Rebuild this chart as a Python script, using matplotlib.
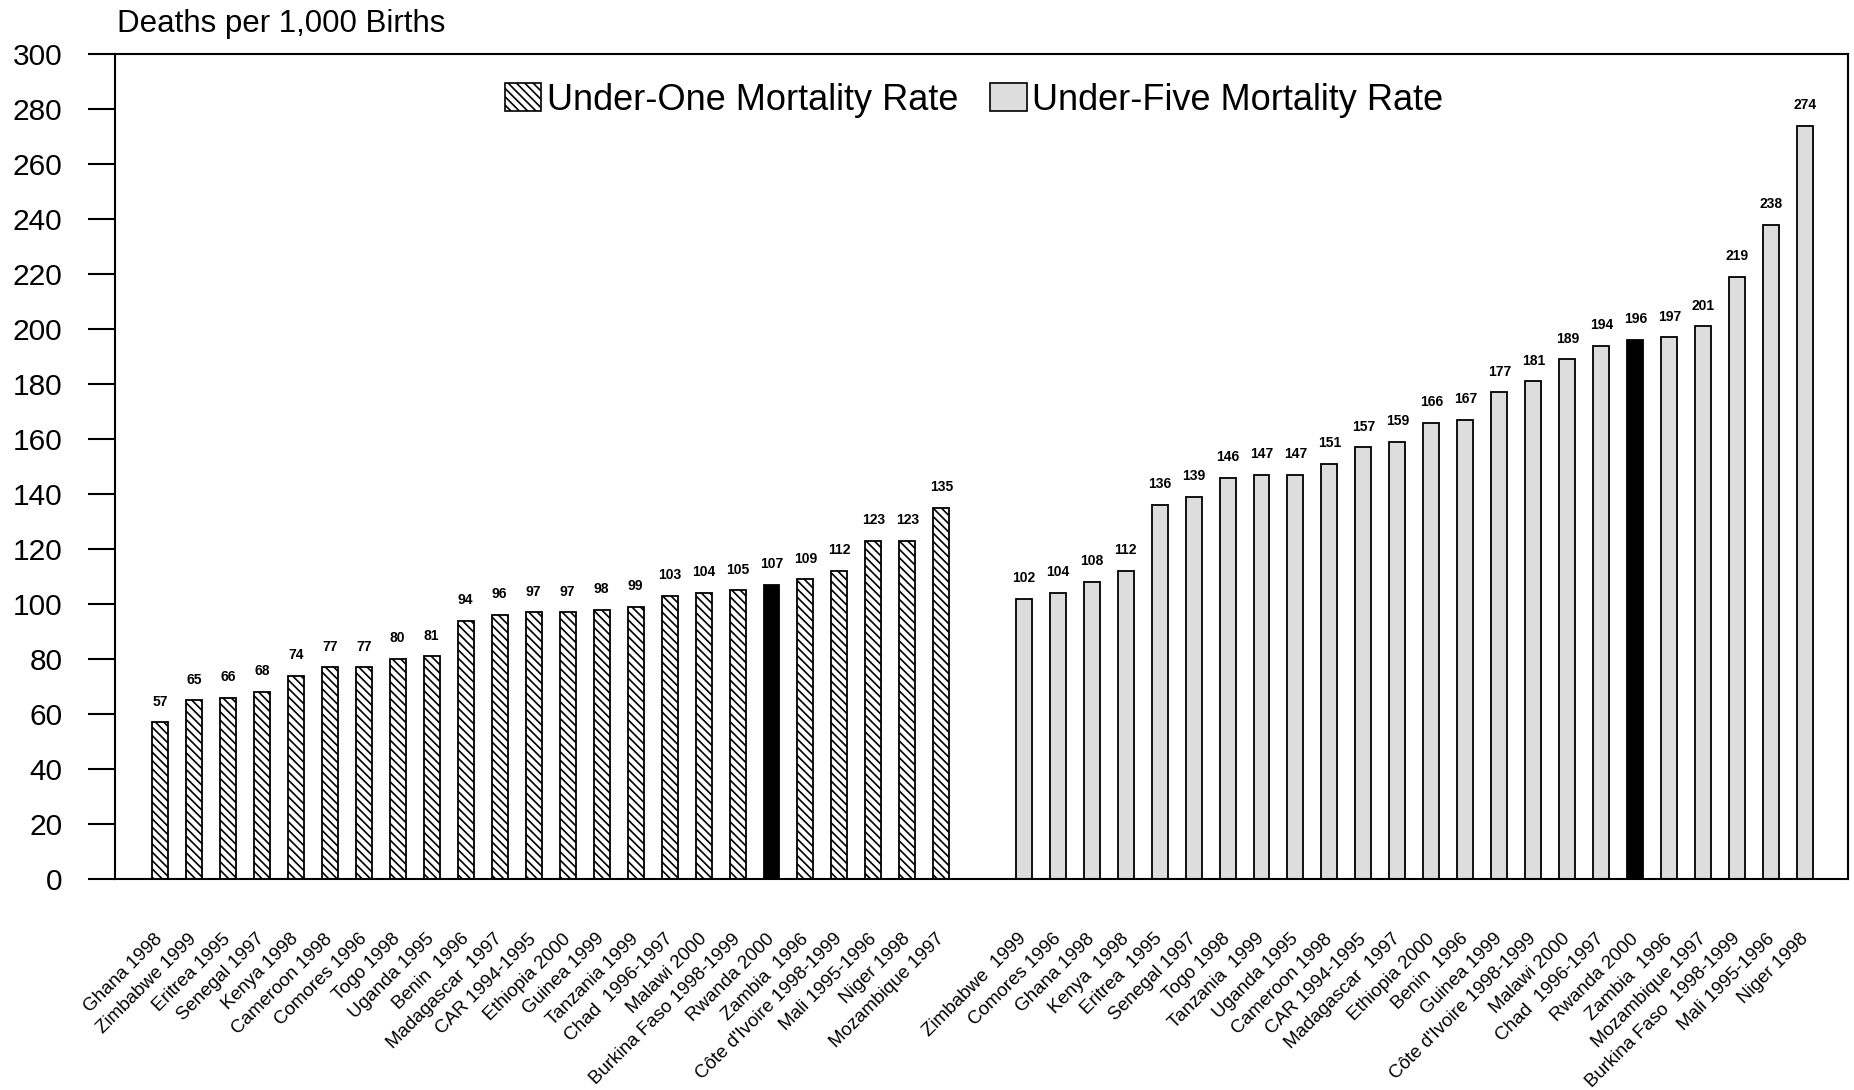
import numpy as np
import matplotlib
matplotlib.use("Agg")
import matplotlib.pyplot as plt
from matplotlib.patches import Patch
from matplotlib.transforms import ScaledTranslation

plt.rcParams['font.family'] = ['Liberation Sans', 'DejaVu Sans']
plt.rcParams['hatch.linewidth'] = 1.2

# --- data ---
under_one_labels = ["Ghana 1998", "Zimbabwe 1999", "Eritrea 1995", "Senegal 1997", "Kenya 1998",
                    "Cameroon 1998", "Comores 1996", "Togo 1998", "Uganda 1995", "Benin  1996",
                    "Madagascar  1997", "CAR 1994-1995", "Ethiopia 2000", "Guinea 1999",
                    "Tanzania 1999", "Chad  1996-1997", "Malawi 2000", "Burkina Faso 1998-1999",
                    "Rwanda 2000", "Zambia  1996", "Côte d'Ivoire 1998-1999", "Mali 1995-1996",
                    "Niger 1998", "Mozambique 1997"]
under_one = [57, 65, 66, 68, 74, 77, 77, 80, 81, 94, 96, 97, 97, 98, 99,
             103, 104, 105, 107, 109, 112, 123, 123, 135]

under_five_labels = ["Zimbabwe  1999", "Comores 1996", "Ghana 1998", "Kenya  1998", "Eritrea  1995",
                     "Senegal 1997", "Togo 1998", "Tanzania  1999", "Uganda 1995", "Cameroon 1998",
                     "CAR 1994-1995", "Madagascar  1997", "Ethiopia 2000", "Benin  1996",
                     "Guinea 1999", "Côte d'Ivoire 1998-1999", "Malawi 2000", "Chad  1996-1997",
                     "Rwanda 2000", "Zambia  1996", "Mozambique 1997", "Burkina Faso  1998-1999",
                     "Mali 1995-1996", "Niger 1998"]
under_five = [102, 104, 108, 112, 136, 139, 146, 147, 147, 151, 157, 159, 166, 167,
              177, 181, 189, 194, 196, 197, 201, 219, 238, 274]

highlight = "Rwanda 2000"
yticks = np.arange(0, 301, 20)

# --- layout ---
fig = plt.figure(figsize=(18.54, 10.90), dpi=100)
ax = fig.add_axes([115 / 1854, 1 - 879 / 1090, (1848 - 115) / 1854, (879 - 54) / 1090])

x1 = np.arange(len(under_one))
x5 = np.arange(len(under_five)) + len(under_one) + 1.42
width = 0.47

for x, v, lab in zip(x1, under_one, under_one_labels):
    if lab == highlight:
        ax.bar(x, v, width, color='black', edgecolor='black', linewidth=1.3)
    else:
        ax.bar(x, v, width, color='white', edgecolor='black', hatch='\\\\\\\\', linewidth=1.3)
for x, v, lab in zip(x5, under_five, under_five_labels):
    fc = 'black' if lab == highlight else '#dddddd'
    ax.bar(x, v, width, color=fc, edgecolor='black', linewidth=1.3)

for x, v in list(zip(x1, under_one)) + list(zip(x5, under_five)):
    ax.annotate(str(v), (x, v), xytext=(0, 12), textcoords='offset points',
                ha='center', va='baseline', fontsize=10, fontweight='bold')

ax.set_xlim(-1.32, x5[-1] + 1.26)
ax.set_ylim(0, 300)
ax.set_yticks(yticks)
ax.tick_params(axis='y', direction='out', length=19.4, width=1.5, pad=18.5, labelsize=21.5)

ax.set_xticks(np.concatenate([x1, x5]))
ax.set_xticklabels(under_one_labels + under_five_labels, fontsize=13.5,
                   rotation=45, ha='right', va='top', rotation_mode='anchor')
ax.tick_params(axis='x', length=0, pad=37)
shift = ScaledTranslation(-4 / 72, 0, fig.dpi_scale_trans)
for t in ax.get_xticklabels():
    t.set_transform(t.get_transform() + shift)

for s in ax.spines.values():
    s.set_linewidth(1.5)

handles = [Patch(facecolor='white', edgecolor='black', hatch='\\\\\\\\', linewidth=1.2),
           Patch(facecolor='#dddddd', edgecolor='black', linewidth=1.2)]
ax.legend(handles, ["Under-One Mortality Rate", "Under-Five Mortality Rate"],
          loc='center', bbox_to_anchor=(0.4957, 0.944), ncol=2, frameon=False,
          fontsize=26, handlelength=1.0, handleheight=0.8, handletextpad=0.15,
          columnspacing=0.9)

fig.text(117 / 1854, 1 - 32 / 1090, "Deaths per 1,000 Births", fontsize=22.5, va='baseline')

fig.savefig("out.png", dpi=100)
